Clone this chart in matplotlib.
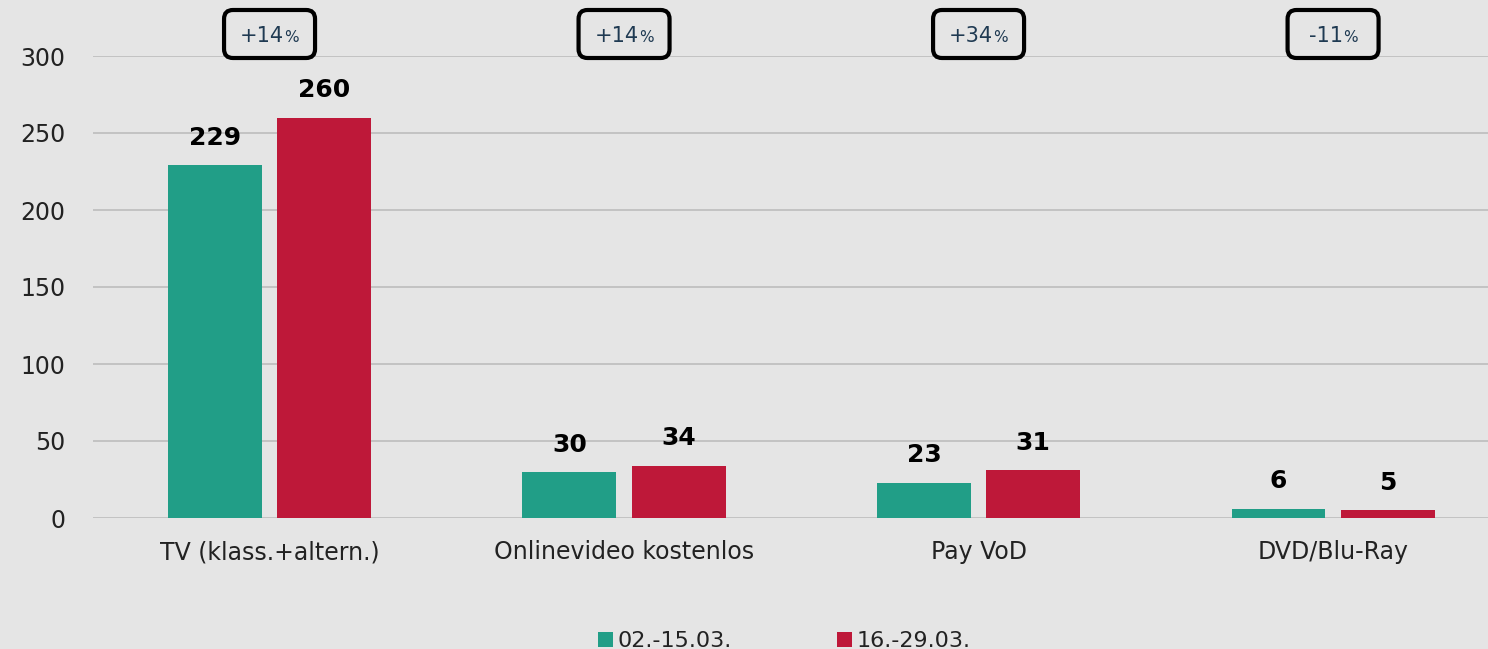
import matplotlib
matplotlib.use("Agg")
import matplotlib.pyplot as plt
from matplotlib.patches import FancyBboxPatch, Patch
import numpy as np

categories = ["TV (klass.+altern.)", "Onlinevideo kostenlos", "Pay VoD", "DVD/Blu-Ray"]
series_names = ["02.-15.03.", "16.-29.03."]
values_1 = [229, 30, 23, 6]
values_2 = [260, 34, 31, 5]
changes = ["+14", "+14", "+34", "-11"]
yticks = [0, 50, 100, 150, 200, 250, 300]

GREEN = "#219E87"
RED = "#BE1839"
BG = "#E5E5E5"

plt.rcParams['font.family'] = ['DejaVu Sans']

W, H = 1488, 649
fig = plt.figure(figsize=(W / 100, H / 100), dpi=100, facecolor=BG)
ax = fig.add_axes([93 / W, 1 - 518 / H, 1 - 93 / W, (518 - 56) / H])
ax.set_facecolor(BG)

x = np.arange(len(categories))
bw = 0.265
off = 0.154
b1 = ax.bar(x - off, values_1, width=bw, color=GREEN, zorder=3)
b2 = ax.bar(x + off, values_2, width=bw, color=RED, zorder=3)

for bars, vals in ((b1, values_1), (b2, values_2)):
    for rect, v in zip(bars, vals):
        ax.annotate(str(v), (rect.get_x() + rect.get_width() / 2, v),
                    xytext=(0, 11), textcoords="offset points",
                    ha="center", va="bottom", fontsize=18, fontweight="bold",
                    color="black", zorder=4)

ax.set_xlim(-0.498, 3.437)
ax.set_ylim(0, 300)
ax.set_yticks(yticks)
ax.set_yticklabels([str(t) for t in yticks], fontsize=17, color="#222222")
ax.set_xticks(x)
ax.set_xticklabels(categories, fontsize=17, color="#222222")
ax.tick_params(axis="y", length=0, pad=20)
ax.tick_params(axis="x", length=0, pad=16)
ax.grid(axis="y", color="#BDBDBD", linewidth=1.2, zorder=0)
for s in ax.spines.values():
    s.set_visible(False)

# change boxes
fig.canvas.draw()
renderer = fig.canvas.get_renderer()
bw_fig = 91 / W
bh_fig = 48 / H
cy = 1 - 34 / H
for xi, ch in zip(x, changes):
    px, _ = ax.transData.transform((xi, 0))
    cx = px / W
    box = FancyBboxPatch((cx - bw_fig / 2, cy - bh_fig / 2), bw_fig, bh_fig,
                         boxstyle="round,pad=0,rounding_size=0.006",
                         mutation_aspect=W / H,
                         transform=fig.transFigure, facecolor="none",
                         edgecolor="black", linewidth=3, zorder=5)
    fig.add_artist(box)
    t1 = fig.text(0, 0, ch, fontsize=15, color="#1F3A52", va="baseline")
    t2 = fig.text(0, 0, "%", fontsize=11, color="#1F3A52", va="baseline")
    w1 = t1.get_window_extent(renderer).width
    w2 = t2.get_window_extent(renderer).width
    total = w1 + w2
    left = px - total / 2
    base = 1 - 42 / H
    t1.set_position((left / W, base))
    t2.set_position(((left + w1) / W, base))

handles = [Patch(facecolor=GREEN), Patch(facecolor=RED)]
fig.legend(handles, series_names, loc="center", bbox_to_anchor=(0.527, 0.012),
           ncol=2, frameon=False, fontsize=16, handlelength=0.7, handleheight=0.7,
           handletextpad=0.2, columnspacing=4.7, labelcolor="#222222")

fig.savefig("out.png", dpi=100, facecolor=BG)
